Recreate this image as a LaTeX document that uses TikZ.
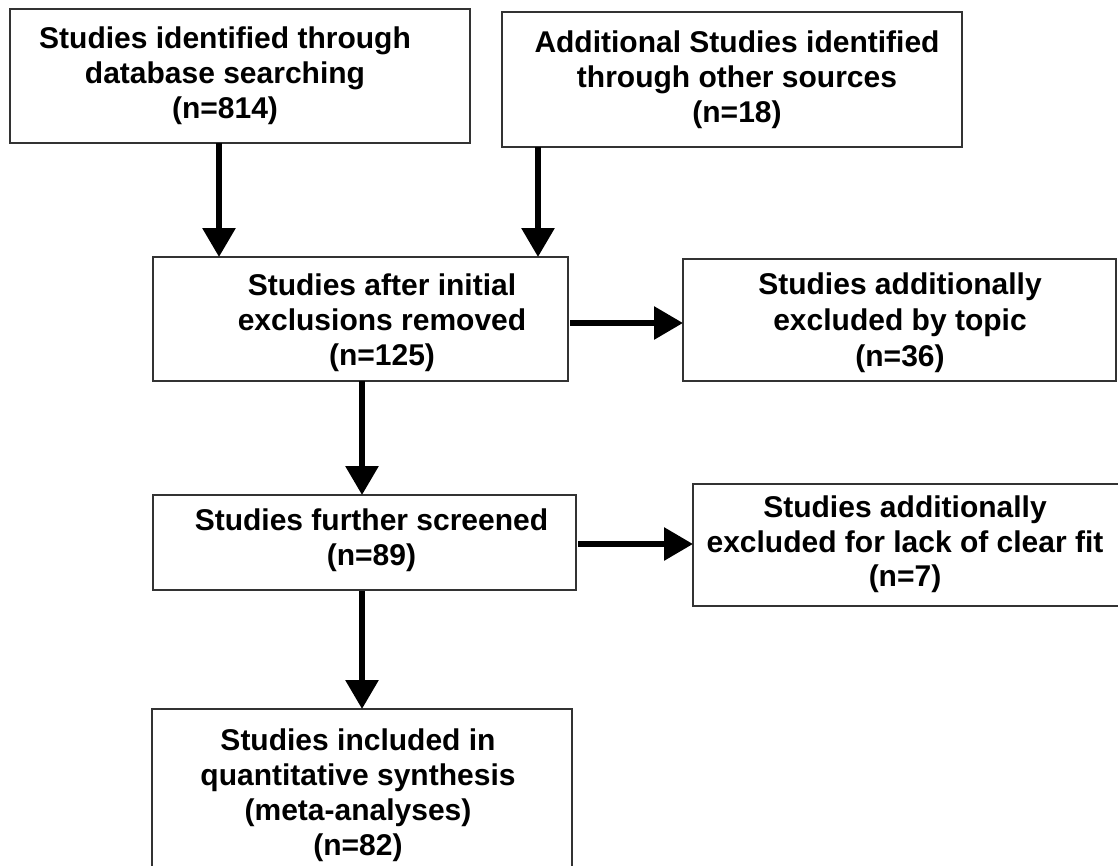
\documentclass[tikz,border=0pt]{standalone}
\usepackage{fontspec}
\setmainfont{Liberation Sans}
\usetikzlibrary{arrows.meta}
\tikzset{
  flowbox/.style={draw=black!80, line width=1.4pt, fill=white, rectangle, inner sep=0pt, outer sep=0pt},
  ln/.style={anchor=base, inner sep=0pt, font=\fontsize{30}{35}\selectfont\bfseries},
  arr/.style={line width=6pt, -{Triangle[length=29pt,width=32pt]}}
}
\begin{document}
\begin{tikzpicture}[x=1pt,y=1pt]
\useasboundingbox (0,0) rectangle (1118,-865);
\clip (0,0) rectangle (1118,-865);
% boxes
\node[flowbox, minimum width=460pt, minimum height=134pt] (b1) at (240,-76) {};
\node[flowbox, minimum width=460pt, minimum height=135pt] (b2) at (732,-79.5) {};
\node[flowbox, minimum width=415pt, minimum height=124pt] (b3) at (360.5,-319) {};
\node[flowbox, minimum width=433pt, minimum height=122pt] (b4) at (899.5,-320) {};
\node[flowbox, minimum width=423pt, minimum height=95pt] (b5) at (364.5,-542.5) {};
\node[flowbox, minimum width=432pt, minimum height=122pt] (b6) at (909,-545) {};
\node[flowbox, minimum width=420pt, minimum height=176pt] (b7) at (362,-797) {};
% texts
\node[ln] (t11) at (225,-48) {Studies identified through};
\node[ln] (t12) at (225,-83) {database searching};
\node[ln] (t13) at (225,-118) {(n=814)};
\node[ln] (t21) at (737,-52) {Additional Studies identified};
\node[ln] (t22) at (737,-87) {through other sources};
\node[ln] (t23) at (737,-122) {(n=18)};
\node[ln] (t31) at (382,-295) {Studies after initial};
\node[ln] (t32) at (382,-330) {exclusions removed};
\node[ln] (t33) at (382,-365) {(n=125)};
\node[ln] (t41) at (900,-294) {Studies additionally};
\node[ln] (t42) at (900,-330) {excluded by topic};
\node[ln] (t43) at (900,-366) {(n=36)};
\node[ln] (t51) at (371.5,-530) {Studies further screened};
\node[ln] (t52) at (371.5,-565) {(n=89)};
\node[ln] (t61) at (905,-517) {Studies additionally};
\node[ln] (t62) at (905,-552) {excluded for lack of clear fit};
\node[ln] (t63) at (905,-586) {(n=7)};
\node[ln] (t71) at (358,-750) {Studies included in};
\node[ln] (t72) at (358,-785) {quantitative synthesis};
\node[ln] (t73) at (358,-820) {(meta-analyses)};
\node[ln] (t74) at (358,-855) {(n=82)};
% connector guides
\coordinate (xa) at (219,0);
\coordinate (xb) at (538,0);
\coordinate (xc) at (362,0);
\coordinate (ya) at (0,-323);
\coordinate (yb) at (0,-544);
% connectors
\draw[arr] (b1.south -| xa) -- (b3.north -| xa);
\draw[arr] (b2.south -| xb) -- (b3.north -| xb);
\draw[arr] ([xshift=2pt]b3.east |- ya) -- (b4.west |- ya);
\draw[arr] (b3.south -| xc) -- (b5.north -| xc);
\draw[arr] ([xshift=2pt]b5.east |- yb) -- (b6.west |- yb);
\draw[arr] ([yshift=-1pt]b5.south -| xc) -- (b7.north -| xc);
\end{tikzpicture}
\end{document}
